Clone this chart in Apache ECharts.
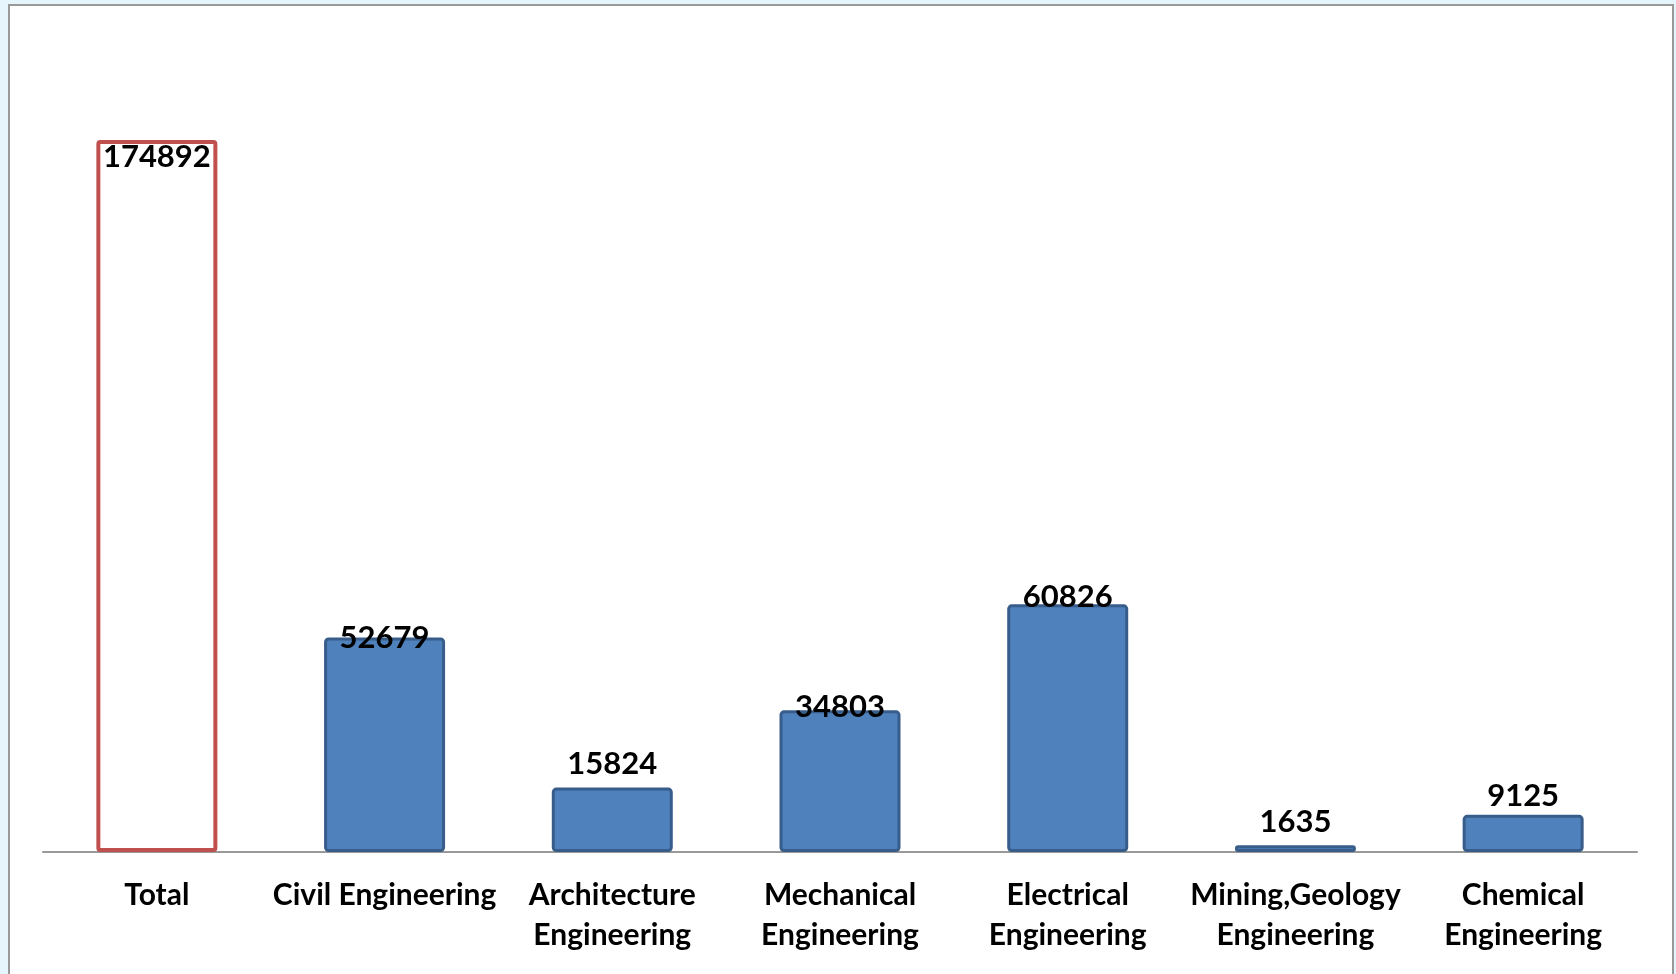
<!DOCTYPE html>
<html>
<head>
<meta charset="utf-8">
<script src="https://cdn.jsdelivr.net/npm/echarts@6/dist/echarts.min.js"></script>
<style>
  html, body { margin: 0; padding: 0; background: #e6f4fc; }
  .frame {
    position: absolute;
    left: 8px;
    top: 4px;
    width: 1662px;
    height: 980px;
    background: #fff;
    border: 2px solid #999;
    border-bottom: none;
  }
  #chart {
    position: absolute;
    left: 0;
    top: 0;
    width: 1676px;
    height: 974px;
  }
</style>
</head>
<body>
<div class="frame"></div>
<div id="chart"></div>
<script>
const categories = [
  'Total',
  'Civil Engineering',
  'Architecture\nEngineering',
  'Mechanical\nEngineering',
  'Electrical\nEngineering',
  'Mining,Geology\nEngineering',
  'Chemical\nEngineering'
]
const students = [174892, 52679, 15824, 34803, 60826, 1635, 9125]

// label gaps above bar tops, as placed in the original
const labelGap = [2, -15, 9, -12, -8, 8, 4]

const chart = echarts.init(document.getElementById('chart'))

const data = students.map((v, i) => {
  if (i === 0) {
    return {
      value: v,
      itemStyle: { color: '#fff', borderColor: '#c0504d', borderWidth: 4, borderRadius: 2 },
      label: { position: 'insideTop', distance: labelGap[i] }
    }
  }
  return { value: v, label: { distance: labelGap[i] } }
})

chart.setOption({
  animation: false,
  grid: { left: 43, right: 39, top: 140, bottom: 122 },
  xAxis: {
    type: 'category',
    data: categories,
    axisTick: { show: false },
    axisLine: { lineStyle: { color: '#999', width: 2 } },
    axisLabel: {
      interval: 0,
      margin: 23,
      fontFamily: 'Lato',
      fontWeight: 'bold',
      fontSize: 30,
      lineHeight: 40,
      color: '#000'
    }
  },
  yAxis: {
    type: 'value',
    min: 0,
    max: 174892,
    show: false,
    splitLine: { show: false }
  },
  series: [{
    type: 'bar',
    data,
    barWidth: 121,
    itemStyle: {
      color: '#4f81bd',
      borderColor: '#385d8a',
      borderWidth: 3,
      borderRadius: 3
    },
    label: {
      show: true,
      position: 'top',
      fontFamily: 'Lato',
      fontWeight: 'bold',
      fontSize: 31,
      lineHeight: 30,
      color: '#000'
    }
  }]
})
</script>
</body>
</html>
